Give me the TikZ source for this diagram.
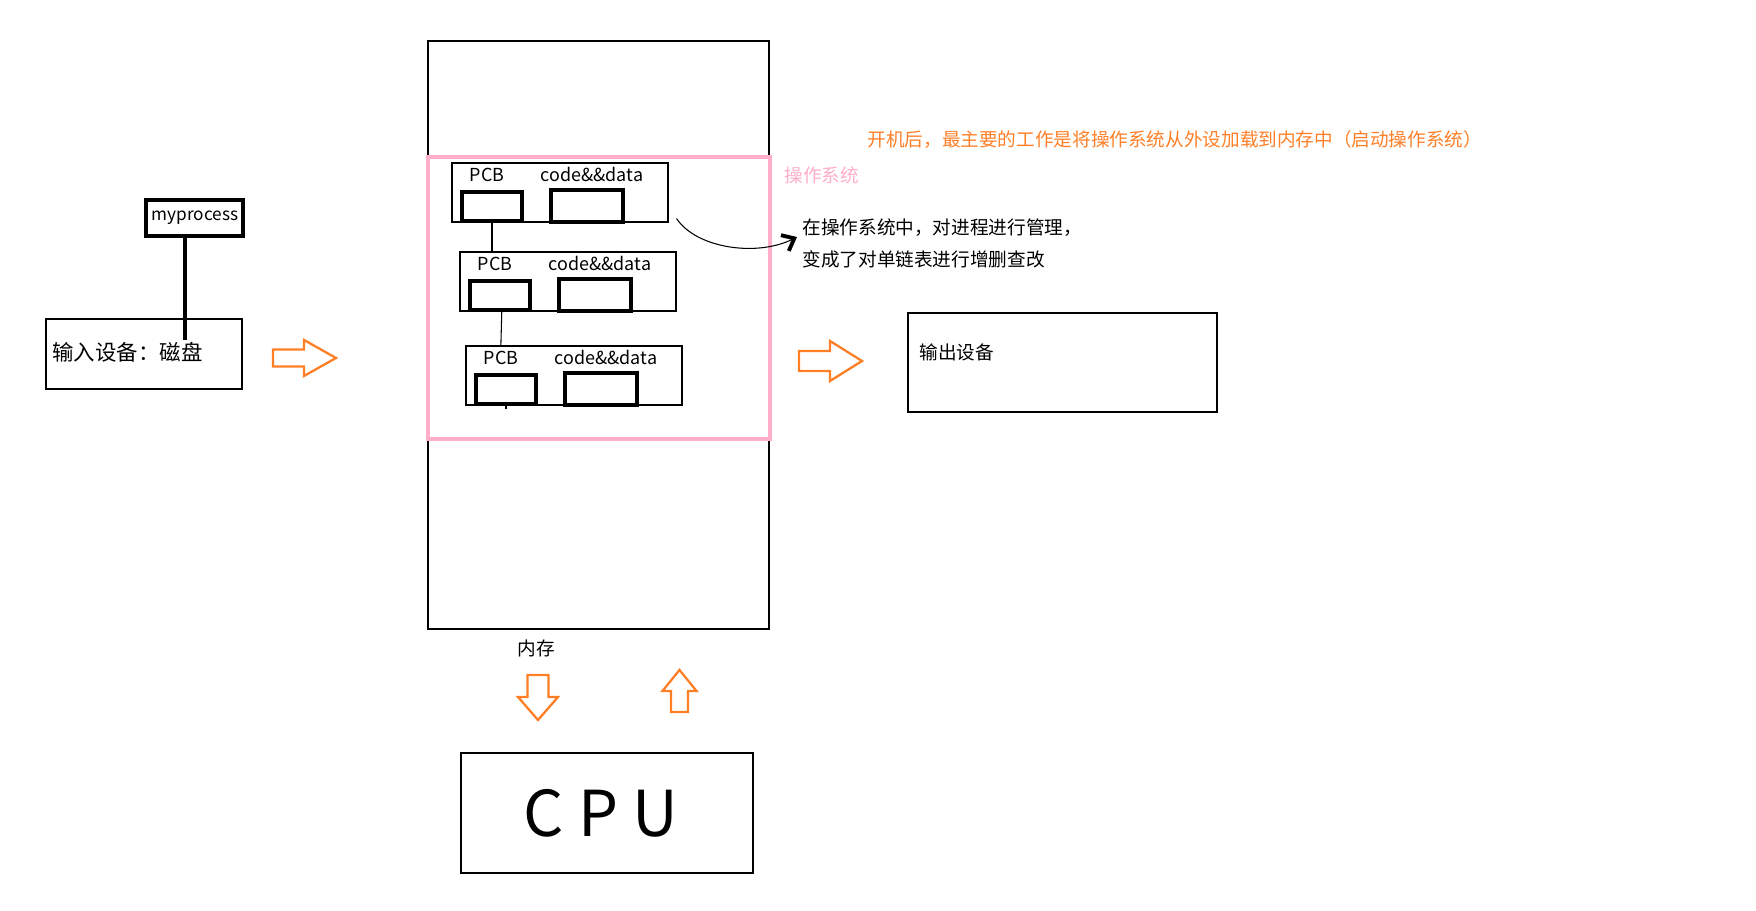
\documentclass[tikz,border=0pt]{standalone}
\usepackage{fontspec}
\setmainfont{Noto Sans CJK SC}
\usetikzlibrary{arrows.meta, fit, calc}
\definecolor{corange}{HTML}{FF7F27}
\definecolor{cpink}{HTML}{FFAEC9}
\tikzset{
  every picture/.style={line width=0.6pt},
  box/.style={draw, inner sep=0pt, fit={#1}},
  heavybox/.style={box={#1}, line width=2.2pt},
  osbox/.style={box={#1}, draw=cpink, line width=2pt},
  txt/.style={inner sep=0pt, font=\fontsize{10.6}{18.2}\selectfont},
  smalltxt/.style={inner sep=0pt, font=\fontsize{10.2}{12}\selectfont},
  bigtxt/.style={inner sep=0pt, font=\fontsize{12.2}{14}\selectfont},
  hollow/.style={draw=corange, line width=1.3pt, line join=miter},
  curvearrow/.style={-{Straight Barb[length=6pt, width=10pt, line width=2.2pt]}},
  pics/flowarrow/.style n args={4}{code={
    \draw[hollow] (0,-#3) -- (#1-#2,-#3) -- (#1-#2,-#4) -- (#1,0) -- (#1-#2,#4) -- (#1-#2,#3) -- (0,#3) -- cycle;
  }},
}

\begin{document}
\begin{tikzpicture}[x=0.02cm, y=-0.02cm]
  \useasboundingbox (0,0) rectangle (1756,911);
  % disk and the program on it
  \node[box={(46,319) (242,389)}] (disk) {};
  \node[bigtxt, anchor=west] (disktxt) at (52,352) {输入设备：磁盘};
  \node[heavybox={(146,200) (243,236)}] (proc) {};
  \node[smalltxt, font=\fontsize{9.8}{12}\selectfont] (proctxt) at (195,218) {myprocess};
  \coordinate (procend) at (185,340);
  \draw[line width=2.2pt] (procend |- proc.south) -- (procend);
  % memory with the os inside
  \node[box={(428,41) (769,629)}] (mem) {};
  \node[osbox={(428,157) (770,439)}] (os) {};
  \node[txt, text=cpink, anchor=west] (ostxt) at (784,175) {操作系统};
  \node[txt] (memtxt) at (536,648) {内存};
  % process list: PCB + code&&data
  \foreach \i/\bx/\by in {1/452/163, 2/460/252, 3/466/346} {
    \node[box={(\bx,\by) (\bx+216,\by+59)}] (p\i) {};
    \node[heavybox={(\bx+10,\by+29) (\bx+70,\by+58)}] (pcb\i) {};
    \node[heavybox={(\bx+99,\by+27) (\bx+171,\by+59)}] (cd\i) {};
    \node[smalltxt] (pcbtxt\i) at (\bx+35,\by+12) {PCB};
    \node[smalltxt] (cdtxt\i) at (\bx+140,\by+11) {code\&\&data};
  }
  \draw (pcb1.south) -- (pcb1.south |- p2.north);
  \draw ([xshift=1pt]pcb2.south) -- ([xshift=0.5pt]pcb2.south |- p3.north);
  \draw (pcb3.south) -- ++(0,3);
  % notes
  \node[txt, text=corange, anchor=west] (boot) at (867,140) {开机后，最主要的工作是将操作系统从外设加载到内存中（启动操作系统）};
  \node[txt, anchor=west, align=left] (mgmt) at (802,243) {在操作系统中，对进程进行管理，\\变成了对单链表进行增删查改};
  \draw[curvearrow] ([shift={(8,-4)}]p1.south east) .. controls +(20,30) and +(-40,20) .. ([shift={(-5,-6)}]mgmt.west);
  % output and cpu
  \node[box={(908,313) (1217,412)}] (out) {};
  \node[txt, anchor=west] (outtxt) at (919,352) {输出设备};
  \node[box={(461,753) (753,873)}] (cpu) {};
  \node[inner sep=0pt, font=\fontsize{36}{40}\selectfont] (cputxt) at (601,813) {C P U};
  % hollow arrows
  \pic at (273,358) {flowarrow={63}{32}{8.5}{18}};
  \pic at (799,361) {flowarrow={63}{32}{10}{20}};
  \pic[rotate=-90] at (538,675) {flowarrow={45}{23}{10.5}{20}};
  \pic[rotate=90] at (679.5,712) {flowarrow={42}{21}{8.5}{17}};
\end{tikzpicture}
\end{document}
